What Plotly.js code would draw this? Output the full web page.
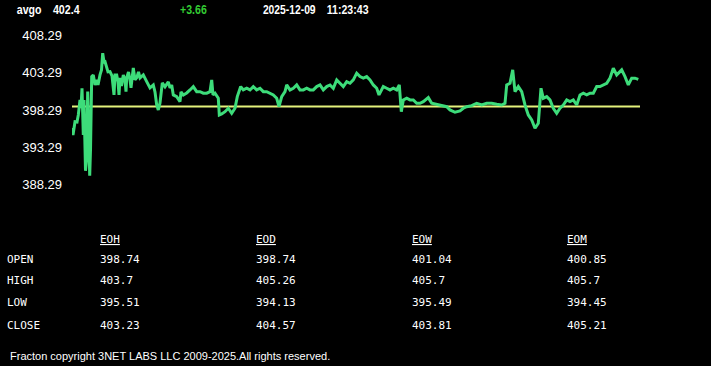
<!DOCTYPE html>
<html>
<head>
<meta charset="utf-8">
<script src="https://cdn.plot.ly/plotly-3.0.1.min.js"></script>
<style>html,body{margin:0;padding:0;background:#000;}#chart{width:711px;height:366px;}</style>
</head>
<body>
<div id="chart"></div>
<script>
// ---- header data ----
const symbol = 'avgo';
const lastPrice = '402.4';
const change = '+3.66';
const quoteDate = '2025-12-09';
const quoteTime = '11:23:43';
const openRef = 398.74;

// ---- y axis ticks ----
const yTickVals = [388.29, 393.29, 398.29, 403.29, 408.29];
const yTickText = ['388.29', '393.29', '398.29', '403.29', '408.29'];

// ---- intraday series (minutes since 09:30, price) ----
const minutes = [0,0.2,0.6,1.0,1.26,1.6,1.8,2.0,2.26,2.4,2.7,2.9,3.14,3.3,3.54,3.7,3.94,4.26,4.6,4.94,
5.2,5.6,5.9,6.14,6.4,6.6,6.94,7.2,7.6,8.0,8.4,8.6,8.94,9.2,9.4,9.6,9.9,10.26,10.6,10.8,10.94,11.3,
11.6,11.8,12.26,12.6,12.94,13.3,13.6,14.26,14.94,15.6,16.26,16.6,16.94,17.26,17.6,18.06,18.6,19.26,19.6,19.94,20.26,
20.94,21.6,21.8,22.26,22.94,23.6,24.26,24.94,25.6,26.26,26.94,27.6,27.94,28.2,28.6,29.26,29.46,29.94,30.6,31.26,
31.94,32.6,33.06,33.74,34.26,34.94,35.6,36.26,36.94,37.6,38.26,38.94,39.6,40.26,40.94,41.4,41.94,42.6,42.94,43.6,
44.26,44.94,45.6,46.26,46.94,47.6,48.26,48.94,49.6,50.26,50.94,51.6,52.26,52.94,53.6,54.26,54.94,55.6,56.26,56.94,
57.6,58.26,58.94,59.6,60.26,60.94,61.4,61.6,62.26,62.94,63.6,64.26,64.94,65.46,65.74,65.86,66.26,66.94,67.6,68.26,
68.94,69.6,70.26,71.26,71.94,72.94,73.94,74.94,75.6,76.6,77.6,78.26,78.94,79.94,80.94,81.94,82.94,83.94,84.94,85.94,
86.6,86.94,87.6,88.14,88.6,89.26,89.94,90.6,91.26,91.94,92.6,93.26,93.8,94.26,94.94,95.6,96.26,96.94,97.6,98.26,
98.94,99.6,100.26,100.94,101.6,102.26,102.94,103.6,104.26,104.94,105.6,106.26,106.94,107.6,108.26,108.94,109.94,110.6,111.26,111.94,
112.6,113.26];
const prices = [395.87,394.93,396.72,396.68,397.62,399.64,398.56,401.21,394.93,399.64,390.12,391.56,400.75,396.94,389.45,392.91,402.77,403.00,401.65,402.33,
401.65,403.00,403.67,405.92,404.75,404.79,403.94,403.40,403.44,402.87,400.31,403.00,403.00,402.06,400.31,402.60,401.52,403.00,402.33,400.75,402.60,403.40,
402.33,401.25,403.94,402.33,402.60,403.40,402.60,403.00,402.10,401.25,401.65,400.71,398.96,398.29,399.23,401.92,401.39,402.06,401.25,401.65,400.31,
400.08,399.41,400.71,400.31,400.58,400.98,401.43,400.75,400.75,400.54,400.54,400.75,402.33,400.31,400.54,399.86,397.62,397.75,398.06,398.52,
397.85,398.52,400.08,401.43,400.98,401.21,400.98,401.43,400.98,401.21,400.75,400.75,400.54,400.31,399.86,398.73,400.08,400.75,401.65,400.98,
401.21,401.65,400.98,400.98,401.21,400.98,400.98,401.43,401.65,400.98,401.43,401.65,401.21,402.33,401.88,401.43,402.10,401.88,402.33,403.23,
402.77,402.56,402.77,402.33,401.65,401.21,400.31,400.54,401.43,401.21,400.98,401.21,400.98,401.65,399.19,398.06,399.64,399.86,399.64,399.64,
399.19,399.19,399.41,399.95,399.19,399.06,398.96,398.73,398.29,397.98,398.16,398.52,398.73,398.87,399.19,398.96,399.19,399.19,399.06,398.96,
399.19,401.65,401.88,403.67,400.75,401.43,400.75,398.96,397.62,396.94,395.83,396.50,401.21,399.86,400.08,399.64,398.52,397.85,398.52,398.96,
399.64,399.41,399.64,398.96,400.31,400.54,400.31,400.54,400.54,401.43,401.43,401.65,401.88,402.56,403.90,403.00,403.67,402.77,401.65,402.56,
402.56,402.40];

// ---- summary table ----
const tableCols = ['EOH', 'EOD', 'EOW', 'EOM'];
const rowLabels = ['OPEN', 'HIGH', 'LOW', 'CLOSE'];
const eohVals = ['398.74', '403.7', '395.51', '403.23'];
const eodVals = ['398.74', '405.26', '394.13', '404.57'];
const eowVals = ['401.04', '405.7', '395.49', '403.81'];
const eomVals = ['400.85', '405.7', '394.45', '405.21'];
const footer = 'Fracton copyright 3NET LABS LLC 2009-2025.All rights reserved.';

// ---- layout geometry ----
const W = 711, H = 366;
const L = 72, R = 640, T = 28, B = 197;
function ax(px) { return (px - L) / (R - L); }
function ay(py) { return (B - py) / (B - T); }

const annotations = [];
function addText(text, px, py, font, extra) {
  annotations.push(Object.assign({
    text: text, x: ax(px), y: ay(py), xref: 'paper', yref: 'paper',
    xanchor: 'left', yanchor: 'middle', showarrow: false, font: font, borderpad: 0
  }, extra || {}));
}
// header items: text, left edge, condensed width (narrow bold face)
const hdrFont = { family: 'Arial, "Liberation Sans", sans-serif', size: 13, color: '#ffffff', weight: 'bold' };
const header = [
  { t: symbol, x: 17, w: 24.7, c: '#ffffff' },
  { t: lastPrice, x: 53.3, w: 26.7, c: '#ffffff' },
  { t: change, x: 180, w: 26.7, c: '#33cc33' },
  { t: quoteDate, x: 263.3, w: 52.7, c: '#ffffff' },
  { t: quoteTime, x: 326.7, w: 41.7, c: '#ffffff' }
];
// centred on the condensed box so that the squeeze keeps the left edge in place
header.forEach(h => addText('<b>' + h.t + '</b>', h.x + h.w / 2, 9.5,
  Object.assign({}, hdrFont, { color: h.c }), { xanchor: 'center' }));

const monoFont = { family: '"DejaVu Sans Mono", monospace', size: 11, color: '#ffffff' };
const colX = [99, 255, 411, 566];
const rowY = [259.7, 280.7, 302.7, 325];
const colVals = [eohVals, eodVals, eowVals, eomVals];
tableCols.forEach((c, i) => addText('<u>' + c + '</u>', colX[i], 239, monoFont));
rowLabels.forEach((r, j) => {
  addText(r, 6, rowY[j], monoFont);
  colVals.forEach((vals, i) => addText(vals[j], colX[i], rowY[j], monoFont));
});
addText(footer, 9, 355.5, { family: 'Arial, "Liberation Sans", sans-serif', size: 11, color: '#ffffff' });

const data = [{
  x: minutes, y: prices, type: 'scatter', mode: 'lines',
  line: { color: '#3ddc7a', width: 3 }, hoverinfo: 'skip'
}];

const layout = {
  width: W, height: H,
  margin: { l: L, r: W - R, t: T, b: H - B, pad: 0 },
  paper_bgcolor: '#000000', plot_bgcolor: '#000000',
  showlegend: false,
  xaxis: { range: [0, 113.6], showgrid: false, zeroline: false, showticklabels: false, ticks: '', showline: false },
  yaxis: {
    range: [386.6, 409.3], showgrid: false, zeroline: false, showline: false,
    tickvals: yTickVals, ticktext: yTickText, ticks: '', ticklabelstandoff: 9,
    tickfont: { family: 'Arial, "Liberation Sans", sans-serif', size: 13, color: '#ffffff' }
  },
  shapes: [{
    type: 'line', xref: 'paper', x0: 0, x1: 1, yref: 'y', y0: openRef, y1: openRef,
    line: { color: '#e4f27c', width: 2 }, layer: 'below'
  }],
  annotations: annotations
};

Plotly.newPlot('chart', data, layout, { staticPlot: true, displayModeBar: false }).then(gd => {
  // condense header texts to the narrow widths of the original face
  const texts = gd.querySelectorAll('.annotation-text');
  header.forEach((h, i) => {
    const el = texts[i];
    if (el && el.textContent === h.t) {
      el.setAttribute('textLength', h.w);
      el.setAttribute('lengthAdjust', 'spacingAndGlyphs');
    }
  });
});
</script>
</body>
</html>
